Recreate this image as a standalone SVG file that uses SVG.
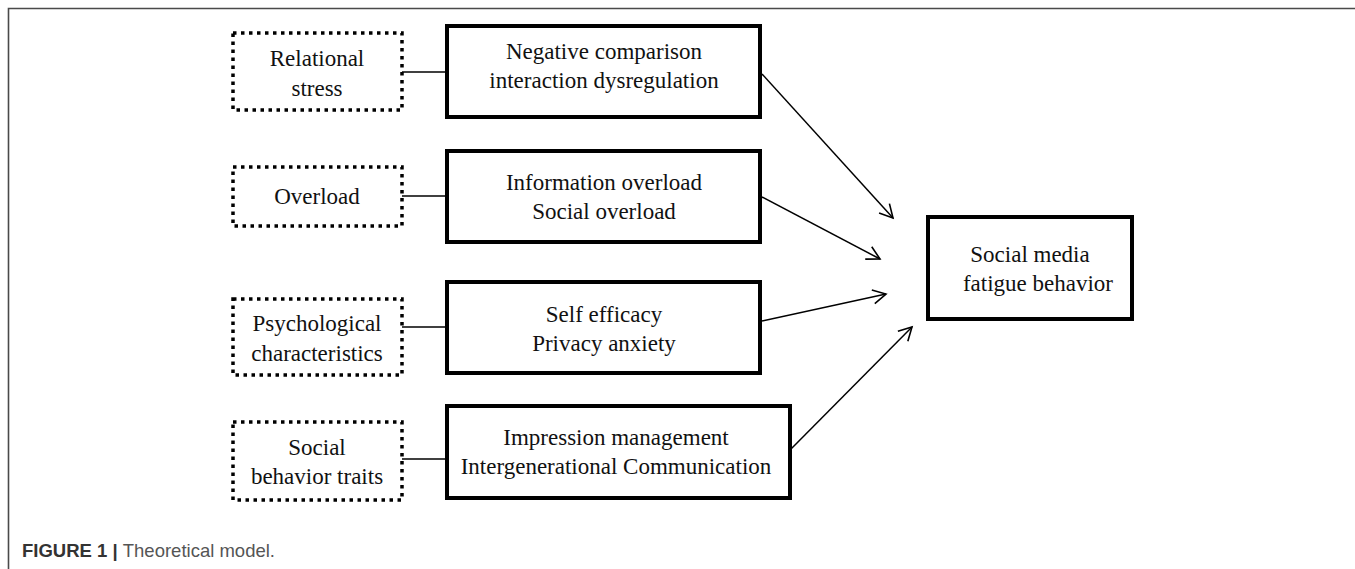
<svg xmlns="http://www.w3.org/2000/svg" width="1355" height="569" viewBox="0 0 1355 569">
<style>
.frame{stroke:#4a4a4a;stroke-width:1.6;fill:none}
.dot{fill:none;stroke:#000;stroke-width:3.5;stroke-dasharray:3.5 4.5}
.box{fill:#fff;stroke:#000;stroke-width:4}
.t{font-family:"Liberation Serif","Times New Roman",serif;font-size:23px;fill:#111;text-anchor:middle}
.link{stroke:#000;stroke-width:1.4;fill:none}
.arr{stroke:#000;stroke-width:1.5;fill:none;marker-end:url(#ah)}
.cap{font-family:"Liberation Sans",Arial,sans-serif;font-size:18.5px}
</style>
<defs>
<marker id="ah" markerUnits="userSpaceOnUse" markerWidth="20" markerHeight="20" refX="14" refY="7" orient="auto" overflow="visible">
<path d="M1,0 L14,7 L1,14" fill="none" stroke="#000" stroke-width="1.6"/>
</marker>
</defs>
<rect width="1355" height="569" fill="#fff"/>
<path class="frame" d="M8.5,569 V8.5 H1355"/>
<g id="connectors">
<line class="link" x1="402" y1="72" x2="447" y2="72"/>
<line class="link" x1="402" y1="196" x2="447" y2="196"/>
<line class="link" x1="402" y1="327" x2="447" y2="327"/>
<line class="link" x1="402" y1="459" x2="447" y2="459"/>
<line class="arr" x1="762" y1="74" x2="893" y2="218"/>
<line class="arr" x1="762" y1="197" x2="880" y2="259"/>
<line class="arr" x1="762" y1="321" x2="886" y2="294"/>
<line class="arr" x1="791" y1="449" x2="912" y2="327"/>
</g>
<g id="n-relational">
<rect class="dot" x="233" y="33" width="169" height="77"/>
<text class="t" x="317" y="66">Relational</text>
<text class="t" x="317" y="96">stress</text>
</g>
<g id="n-overload">
<rect class="dot" x="233" y="167" width="169" height="59"/>
<text class="t" x="317" y="204">Overload</text>
</g>
<g id="n-psych">
<rect class="dot" x="233" y="299" width="169" height="76"/>
<text class="t" x="317" y="331">Psychological</text>
<text class="t" x="317" y="361">characteristics</text>
</g>
<g id="n-social">
<rect class="dot" x="233" y="422" width="169" height="78"/>
<text class="t" x="317" y="455">Social</text>
<text class="t" x="317" y="484">behavior traits</text>
</g>
<g id="n-negative">
<rect class="box" x="447" y="26" width="313" height="91"/>
<text class="t" x="604" y="59">Negative comparison</text>
<text class="t" x="604" y="88">interaction dysregulation</text>
</g>
<g id="n-information">
<rect class="box" x="447" y="151" width="313" height="91"/>
<text class="t" x="604" y="190">Information overload</text>
<text class="t" x="604" y="219">Social overload</text>
</g>
<g id="n-self">
<rect class="box" x="447" y="282" width="313" height="91"/>
<text class="t" x="604" y="322">Self efficacy</text>
<text class="t" x="604" y="351">Privacy anxiety</text>
</g>
<g id="n-impression">
<rect class="box" x="447" y="406" width="343" height="92"/>
<text class="t" x="616" y="445">Impression management</text>
<text class="t" x="616" y="474">Intergenerational Communication</text>
</g>
<g id="n-fatigue">
<rect class="box" x="928" y="217" width="204" height="102"/>
<text class="t" x="1030" y="262">Social media</text>
<text class="t" x="1038" y="291">fatigue behavior</text>
</g>
<text class="cap" x="22" y="557"><tspan font-weight="bold" fill="#333">FIGURE 1 | </tspan><tspan fill="#555">Theoretical model.</tspan></text>
</svg>
